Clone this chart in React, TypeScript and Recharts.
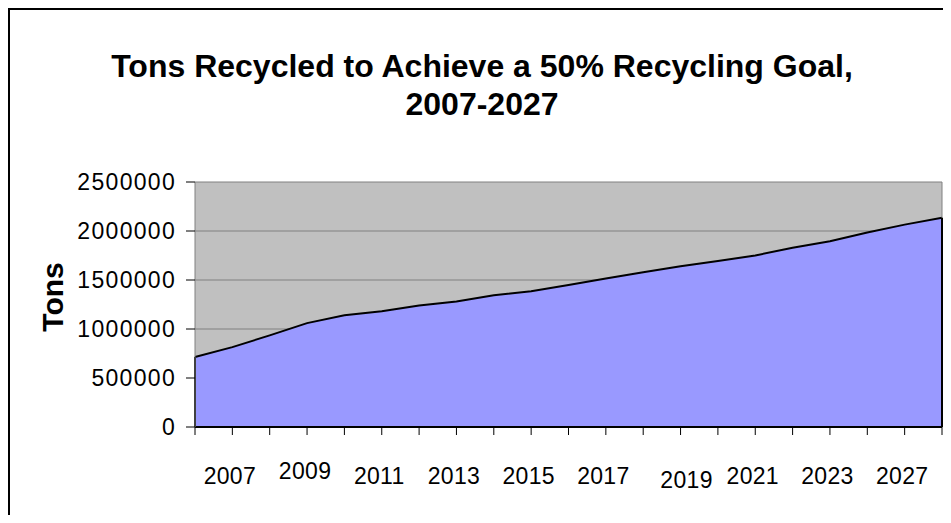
import { AreaChart, Area, XAxis, YAxis, CartesianGrid, ReferenceLine } from 'recharts';

const YEARS = [
  '2007', '2008', '2009', '2010', '2011', '2012', '2013', '2014', '2015', '2016', '2017',
  '2018', '2019', '2020', '2021', '2022', '2023', '2024', '2025', '2026', '2027',
];

const TONS = [
  715000, 815000, 935000, 1060000, 1140000, 1180000, 1240000, 1280000, 1345000, 1385000, 1450000,
  1515000, 1580000, 1640000, 1695000, 1750000, 1830000, 1895000, 1985000, 2065000, 2135000,
];

// labels as printed under the axis (only every other tick carries one)
const TICK_LABELS = [
  '', '2007', '', '2009', '', '2011', '', '2013', '', '2015', '',
  '2017', '', '2019', '', '2021', '', '2023', '', '2027', '',
];

const Y_TICKS = [0, 500000, 1000000, 1500000, 2000000, 2500000];

const data = YEARS.map((year, i) => ({ year, tons: TONS[i] }));

const FONT = 'Arial, "Liberation Sans", sans-serif';

// a couple of labels sit off the row in the original
const NUDGE: Record<string, [number, number]> = {
  '2009': [-2, -5],
  '2019': [6, 4],
};

function YearTick(props: any) {
  const { x, y, index } = props;
  const label = TICK_LABELS[index];
  if (!label) return null;
  const [dx, dy] = NUDGE[label] || [-2.5, 0];
  return (
    <text
      x={x + dx}
      y={y + 47 + dy}
      textAnchor="middle"
      fontSize={23}
      fontFamily={FONT}
      fill="#000"
      letterSpacing={0.3}
    >
      {label}
    </text>
  );
}

export default function App() {
  const first = YEARS[0];
  const last = YEARS[YEARS.length - 1];
  return (
    <div
      style={{
        position: 'relative',
        width: 941,
        height: 513,
        marginBottom: -8,
        overflow: 'hidden',
        borderLeft: '2px solid #000',
        borderTop: '2px solid #000',
        fontFamily: FONT,
      }}
    >
      <div
        style={{
          position: 'absolute',
          left: 0,
          top: 37,
          width: 944,
          textAlign: 'center',
          fontSize: 32,
          lineHeight: '38px',
          fontWeight: 'bold',
          color: '#000',
        }}
      >
        Tons Recycled to Achieve a 50% Recycling Goal,
        <br />
        2007-2027
      </div>
      <div
        style={{
          position: 'absolute',
          left: -7.5,
          top: 269.5,
          width: 100,
          height: 34,
          lineHeight: '34px',
          textAlign: 'center',
          fontSize: 30,
          fontWeight: 'bold',
          transform: 'rotate(-90deg)',
        }}
      >
        Tons
      </div>
      <AreaChart
        width={933}
        height={490}
        data={data}
        margin={{ top: 172, right: 1, bottom: 13, left: 0 }}
      >
        <CartesianGrid horizontal vertical={false} stroke="#808080" fill="#C0C0C0" />
        <XAxis
          dataKey="year"
          interval={0}
          height={60}
          tickSize={8}
          tickMargin={2}
          axisLine={{ stroke: '#000', strokeWidth: 2 }}
          tickLine={{ stroke: '#000' }}
          tick={<YearTick />}
        />
        <YAxis
          width={185}
          domain={[0, 2500000]}
          ticks={Y_TICKS}
          interval={0}
          tickSize={9}
          tickMargin={10}
          axisLine={{ stroke: '#808080' }}
          tickLine={{ stroke: '#000' }}
          tick={{ fontSize: 23, fill: '#000', fontFamily: FONT, letterSpacing: 1.3 }}
        />
        <Area
          type="linear"
          dataKey="tons"
          stroke="#000"
          strokeWidth={2}
          fill="#9999FF"
          fillOpacity={1}
          dot={false}
          activeDot={false}
          isAnimationActive={false}
        />
        <ReferenceLine x={last} stroke="#808080" />
        <ReferenceLine
          segment={[{ x: first, y: 0 }, { x: first, y: TONS[0] }]}
          stroke="#000"
          strokeWidth={2}
        />
        <ReferenceLine
          segment={[{ x: last, y: 0 }, { x: last, y: TONS[TONS.length - 1] }]}
          stroke="#000"
          strokeWidth={2}
        />
      </AreaChart>
    </div>
  );
}
